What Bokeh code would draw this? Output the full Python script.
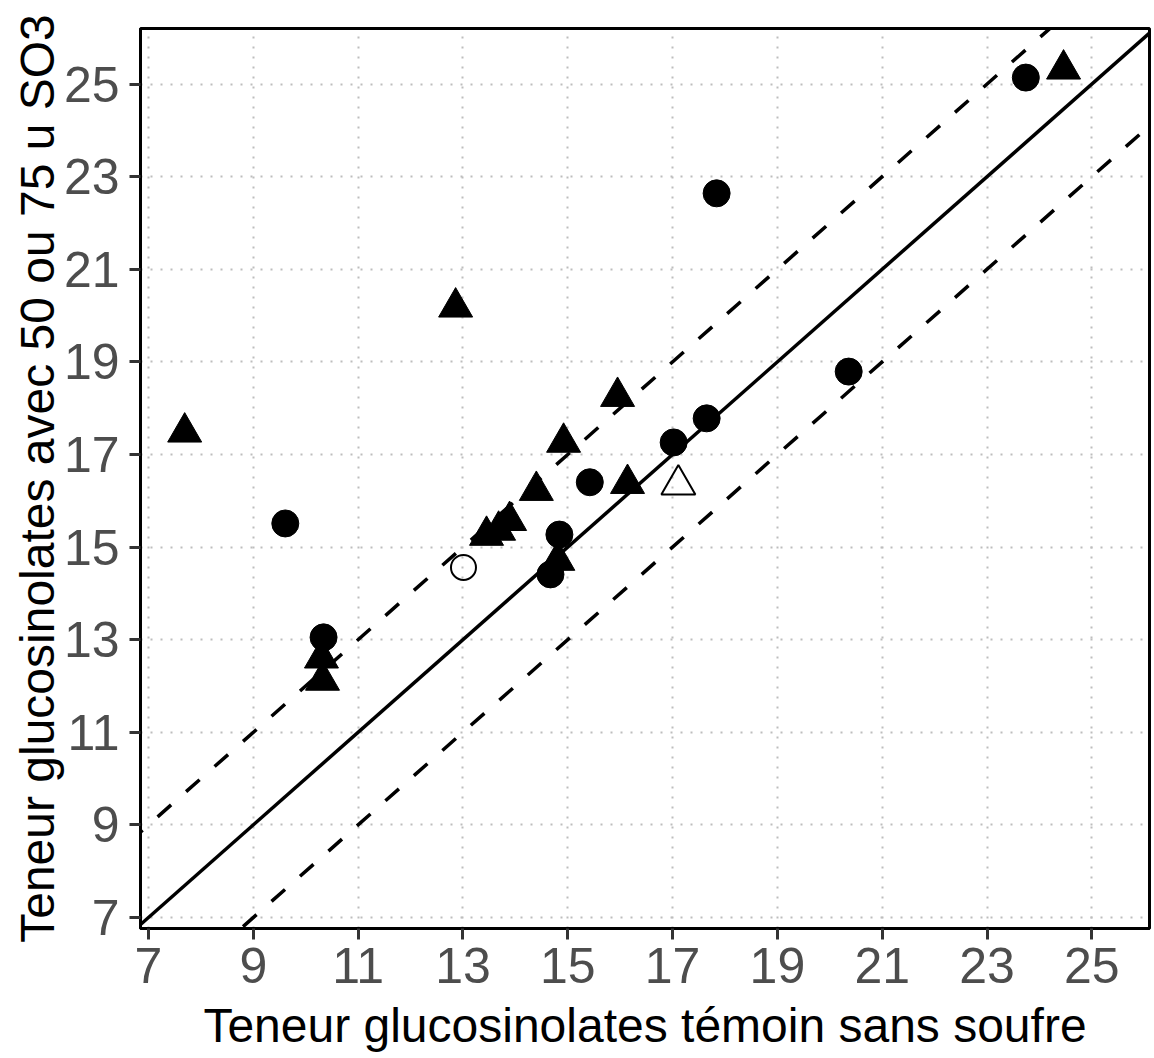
from bokeh.plotting import figure
from bokeh.models import Range1d, FixedTicker
from bokeh.embed import file_html
from bokeh.resources import INLINE

# ---- data ----
circle_x = [23.74, 17.84, 20.36, 17.65, 17.02, 15.42, 14.84, 14.67, 9.61, 10.34]
circle_y = [25.14, 22.64, 18.79, 17.78, 17.26, 16.40, 15.27, 14.41, 15.51, 13.05]

triangle_x = [24.46, 12.86, 7.69, 15.95, 14.92, 14.40, 16.14, 13.45, 13.68, 13.89, 14.81, 10.30, 10.32]
triangle_y = [25.32, 20.18, 17.48, 18.25, 17.26, 16.22, 16.37, 15.25, 15.36, 15.57, 14.71, 12.60, 12.12]

open_circle_x = [13.01]
open_circle_y = [14.56]

open_triangle_x = [17.11]
open_triangle_y = [16.35]

ref_x = [5, 28]
line_offsets = [0, 2, -2]

ticks = [7, 9, 11, 13, 15, 17, 19, 21, 23, 25]

x_label = "Teneur glucosinolates témoin sans soufre"
y_label = "Teneur glucosinolates avec 50 ou 75 u SO3"

FONT = "Liberation Sans"

p = figure(width=1154, height=1058, output_backend="svg", toolbar_location=None,
           x_range=Range1d(6.847, 26.10), y_range=Range1d(6.762, 26.20),
           min_border_left=140, min_border_right=5, min_border_top=28,
           min_border_bottom=130)

p.background_fill_color = "white"
p.border_fill_color = "white"
p.outline_line_color = "black"
p.outline_line_width = 3

for ax in (p.xaxis[0], p.yaxis[0]):
    ax.ticker = FixedTicker(ticks=ticks)
    ax.minor_tick_line_color = None
    ax.major_tick_in = 0
    ax.major_tick_out = 11
    ax.major_tick_line_color = "#333333"
    ax.major_tick_line_width = 3
    ax.axis_line_color = "black"
    ax.axis_line_width = 3
    ax.major_label_text_font = FONT
    ax.major_label_text_font_size = "50px"
    ax.major_label_text_color = "#4D4D4D"
    ax.axis_label_text_font = FONT
    ax.axis_label_text_font_style = "normal"
    ax.axis_label_text_color = "black"

p.xaxis[0].axis_label = x_label
p.xaxis[0].axis_label_text_font_size = "48px"
p.xaxis[0].major_label_standoff = 8
p.xaxis[0].axis_label_standoff = 13

p.yaxis[0].axis_label = y_label
p.yaxis[0].axis_label_text_font_size = "48px"
p.yaxis[0].major_label_standoff = 10
p.yaxis[0].axis_label_standoff = -3

for g in (p.xgrid[0], p.ygrid[0]):
    g.ticker = FixedTicker(ticks=ticks)
    g.grid_line_color = "#BDBDBD"
    g.grid_line_width = 2
    g.grid_line_dash = "2 8"

# reference lines y = x + offset
for off in line_offsets:
    ys = [v + off for v in ref_x]
    if off == 0:
        p.line(ref_x, ys, line_color="black", line_width=3.5)
    else:
        p.line(ref_x, ys, line_color="black", line_width=3.5, line_dash="18 20")

# points
p.scatter(circle_x, circle_y, marker="circle", size=27,
          fill_color="black", line_color="black", line_width=1)
p.scatter(triangle_x, triangle_y, marker="triangle", size=34,
          fill_color="black", line_color="black", line_width=1)
p.scatter(open_circle_x, open_circle_y, marker="circle", size=25,
          fill_color=None, line_color="black", line_width=2)
p.scatter(open_triangle_x, open_triangle_y, marker="triangle", size=34,
          fill_color=None, line_color="black", line_width=2)

open("out.html", "w").write(file_html(p, INLINE))
